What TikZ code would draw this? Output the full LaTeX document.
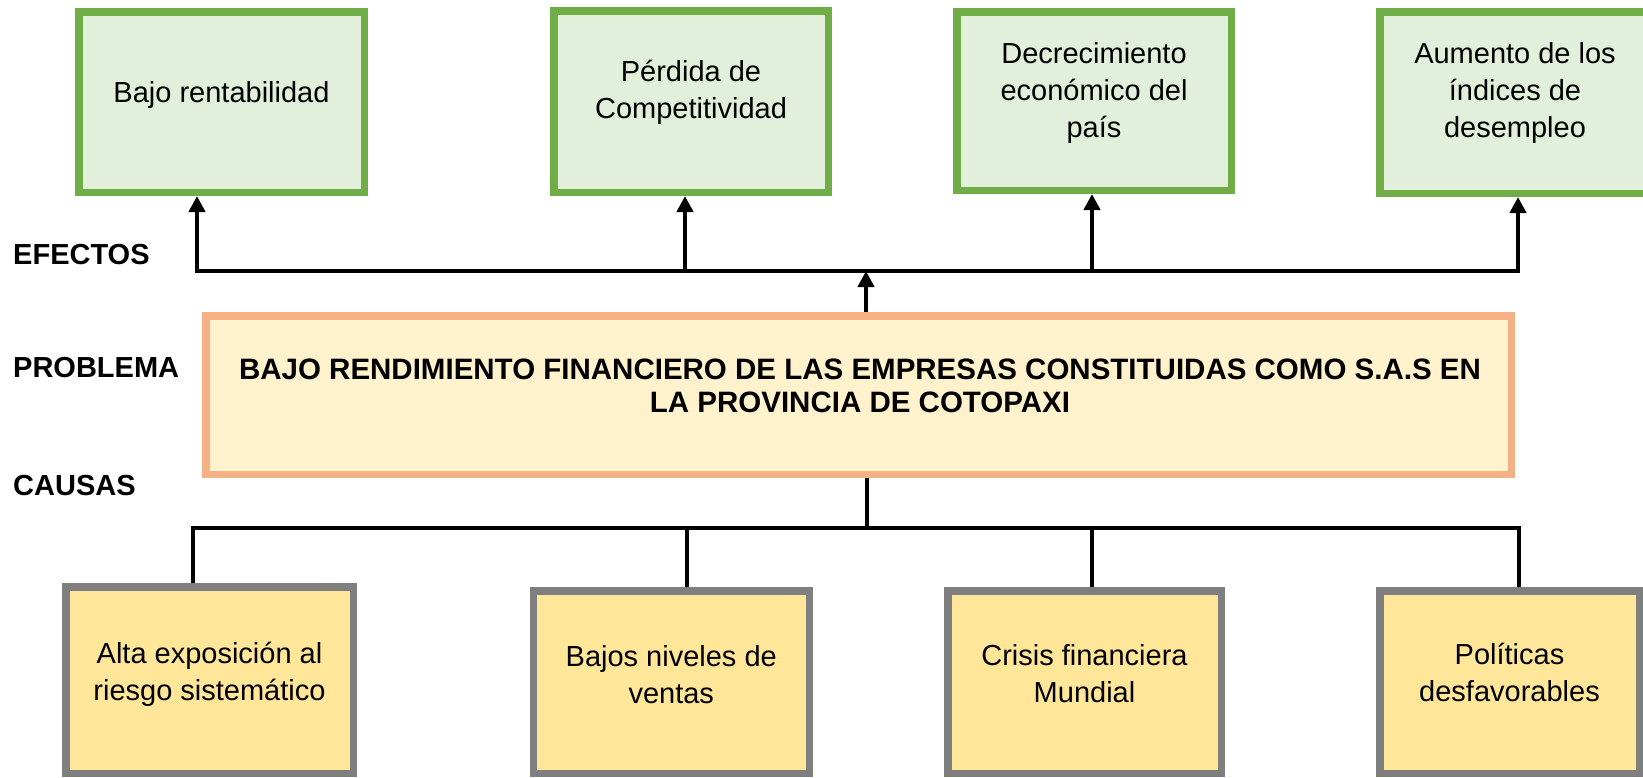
\documentclass[tikz,border=0pt]{standalone}
\usepackage{fontspec}
\setmainfont{Liberation Sans}
\usetikzlibrary{arrows.meta}
\definecolor{gborder}{HTML}{70AD47}
\definecolor{gfill}{HTML}{E2EFDA}
\definecolor{oborder}{HTML}{F4B183}
\definecolor{ofill}{HTML}{FFF2CC}
\definecolor{yborder}{HTML}{7F7F7F}
\definecolor{yfill}{HTML}{FFE699}
\begin{document}
\begin{tikzpicture}[x=1pt,y=-1pt,
  box/.style={rectangle, line width=7.5pt, outer sep=3.75pt, inner sep=0pt},
  effbox/.style={box, draw=gborder, fill=gfill},
  probbox/.style={box, draw=oborder, fill=ofill},
  causebox/.style={box, draw=yborder, fill=yfill},
  txt/.style={inner sep=0pt, align=center, font=\fontsize{29}{37}\selectfont},
  ptxt/.style={inner sep=0pt, align=center, font=\fontsize{29.5}{33}\selectfont\bfseries},
  lbl/.style={inner sep=0pt, anchor=west, font=\fontsize{29}{35}\selectfont\bfseries},
  conn/.style={line width=4pt, draw=black},
  tip/.style={-{Triangle[length=16pt,width=16pt]}},
]
\useasboundingbox (0,0) rectangle (1643,777);
\clip (0,0) rectangle (1643,777);

% effects
\node[effbox, minimum width=285.5pt, minimum height=180.5pt] (t1) at (221.5,102) {};
\node[effbox, minimum width=274.5pt, minimum height=181.5pt] (t2) at (691,101.5) {};
\node[effbox, minimum width=274.5pt, minimum height=178.5pt] (t3) at (1094,101) {};
\node[effbox, minimum width=270.5pt, minimum height=181.5pt] (t4) at (1515,102.5) {};
\node[txt] (t1t) at (221.5,94.5) {Bajo rentabilidad};
\node[txt] (t2t) at (691,92.5) {Pérdida de\\Competitividad};
\node[txt] (t3t) at (1094,92.5) {Decrecimiento\\económico del\\país};
\node[txt] (t4t) at (1515,92.5) {Aumento de los\\índices de\\desempleo};

% problem
\node[probbox, minimum width=1305.5pt, minimum height=158.5pt] (p) at (858.5,395) {};
\node[ptxt] (pt) at (860,385.5) {BAJO RENDIMIENTO FINANCIERO DE LAS EMPRESAS CONSTITUIDAS COMO S.A.S EN\\LA PROVINCIA DE COTOPAXI};

% causes
\node[causebox, minimum width=287.5pt, minimum height=186.5pt] (b1) at (209.5,680) {};
\node[causebox, minimum width=276pt, minimum height=182.5pt] (b2) at (671.25,682) {};
\node[causebox, minimum width=273.5pt, minimum height=182.5pt] (b3) at (1084.5,682) {};
\node[causebox, minimum width=259.5pt, minimum height=182.5pt] (b4) at (1509.5,682) {};
\node[txt] (b1t) at (209.5,674.2) {Alta exposición al\\riesgo sistemático};
\node[txt] (b2t) at (671.25,674.5) {Bajos niveles de\\ventas};
\node[txt] (b3t) at (1084.5,673.8) {Crisis financiera\\Mundial};
\node[txt] (b4t) at (1509.5,672.8) {Políticas\\desfavorables};

% side labels
\node[lbl] (lef) at (13,255) {EFECTOS};
\node[lbl] (lpr) at (13,368) {PROBLEMA};
\node[lbl] (lca) at (13,485.5) {CAUSAS};

% connector points
\coordinate (e1) at (197,271);
\coordinate (e2) at (685,271);
\coordinate (e3) at (1092,271);
\coordinate (e4) at (1518,271);
\coordinate (ec) at (866,271);
\coordinate (c1) at (193,527.5);
\coordinate (c2) at (687,527.5);
\coordinate (c3) at (1092,527.5);
\coordinate (c4) at (1519,527.5);
\coordinate (cc) at (867,527.5);

% effects connectors
\draw[conn, {Triangle[length=16pt,width=16pt]}-{Triangle[length=16pt,width=16pt]}]
  (e1 |- t1.south) -- (e1) -- (e4) -- (e4 |- t4.south);
\draw[conn, tip] (e2) -- (e2 |- t2.south);
\draw[conn, tip] (e3) -- (e3 |- t3.south);
\draw[conn, tip] (ec |- p.north) -- (ec);

% causes connectors
\draw[conn] (c1 |- b1.north) -- (c1) -- (c4) -- (c4 |- b4.north);
\draw[conn] (c2) -- (c2 |- b2.north);
\draw[conn] (c3) -- (c3 |- b3.north);
\draw[conn] (cc |- p.south) -- (cc);
\end{tikzpicture}
\end{document}
